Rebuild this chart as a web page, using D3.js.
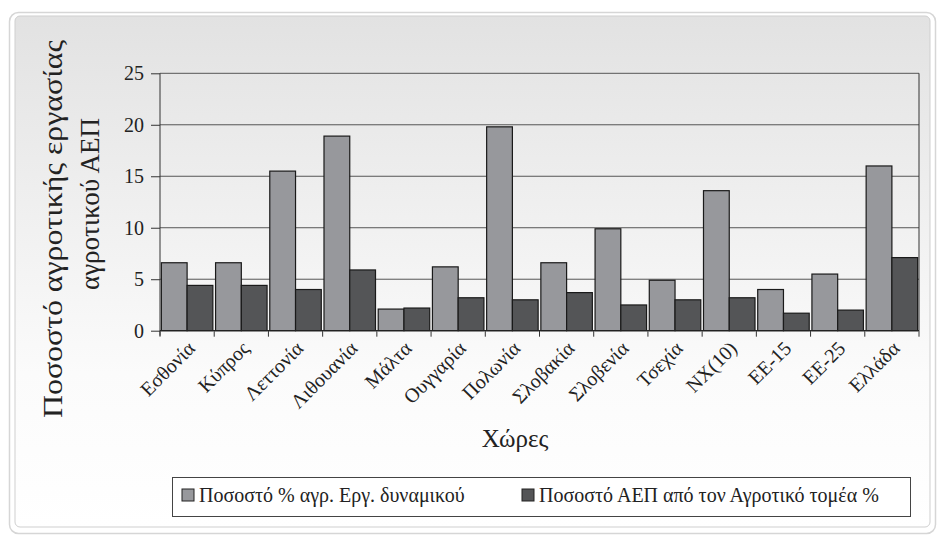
<!DOCTYPE html>
<html><head><meta charset="utf-8">
<script src="https://cdn.jsdelivr.net/npm/d3@7"></script>
<style>html,body{margin:0;padding:0;background:#fff;}svg{display:block;}</style>
</head><body>
<script>
const categories = ["Εσθονία","Κύπρος","Λεττονία","Λιθουανία","Μάλτα","Ουγγαρία","Πολωνία","Σλοβακία","Σλοβενία","Τσεχία","ΝΧ(10)","ΕΕ-15","ΕΕ-25","Ελλάδα"];
const laborShare = [6.6,6.6,15.5,18.9,2.1,6.2,19.8,6.6,9.9,4.9,13.6,4.0,5.5,16.0];
const gdpShare = [4.4,4.4,4.0,5.9,2.2,3.2,3.0,3.7,2.5,3.0,3.2,1.7,2.0,7.1];
const seriesNames = ["Ποσοστό % αγρ. Εργ. δυναμικού","Ποσοστό ΑΕΠ από τον Αγροτικό τομέα %"];
const yTitleLines = ["Ποσοστό αγροτικής εργασίας","αγροτικού ΑΕΠ"];
const yTicks = [0,5,10,15,20,25];

const W=941,H=535;
const font = "'Liberation Serif','Times New Roman',serif";
const svg = d3.select("body").append("svg").attr("width",W).attr("height",H);
const defs = svg.append("defs");
const g1 = defs.append("linearGradient").attr("id","bg").attr("x1",0).attr("y1",0).attr("x2",0).attr("y2",1);
g1.append("stop").attr("offset","0%").attr("stop-color","#e2e2e2");
g1.append("stop").attr("offset","70%").attr("stop-color","#fbfbfb");
g1.append("stop").attr("offset","100%").attr("stop-color","#ffffff");

svg.append("rect").attr("x",9.5).attr("y",12.5).attr("width",926).attr("height",521).attr("rx",9)
  .attr("fill","#fff").attr("stroke","#d6d6d6").attr("stroke-width",1.5);
svg.append("rect").attr("x",15).attr("y",16).attr("width",915).attr("height",511).attr("rx",5)
  .attr("fill","url(#bg)").attr("stroke","#cfcfcf").attr("stroke-width",1);

const m={l:160,r:919,t:73.3,b:330.7};
const x = d3.scaleBand().domain(categories).range([m.l,m.r]).paddingInner(0.05).paddingOuter(0.025);
const xg = d3.scaleBand().domain([0,1]).range([0,x.bandwidth()]);
const y = d3.scaleLinear().domain([0,25]).range([m.b,m.t]);

svg.append("g").selectAll("line").data(yTicks.filter(d=>d>0)).join("line")
  .attr("x1",m.l).attr("x2",m.r).attr("y1",d=>y(d)).attr("y2",d=>y(d))
  .attr("stroke","#555").attr("stroke-width",1);
svg.append("line").attr("x1",m.r).attr("x2",m.r).attr("y1",m.t).attr("y2",m.b).attr("stroke","#333").attr("stroke-width",1);

const colors=["#97989c","#545557"];
const groups = svg.append("g").selectAll("g").data(categories).join("g")
  .attr("transform",d=>`translate(${x(d)},0)`);
groups.selectAll("rect").data((d,i)=>[laborShare[i],gdpShare[i]].map((v,k)=>({v,k}))).join("rect")
  .attr("x",d=>xg(d.k)).attr("width",xg.bandwidth())
  .attr("y",d=>y(d.v)).attr("height",d=>y(0)-y(d.v))
  .attr("fill",d=>colors[d.k]).attr("stroke","#1a1a1a").attr("stroke-width",1.2);

const ya = svg.append("g").attr("transform",`translate(${m.l},0)`)
  .call(d3.axisLeft(y).tickValues(yTicks).tickSize(9).tickPadding(7));
ya.select(".domain").attr("stroke","#333").attr("d",`M0,${m.b+5}V${m.t}`);
ya.selectAll(".tick line").attr("stroke","#333");
ya.selectAll("text").attr("font-family",font).attr("font-size",20).attr("fill","#222");

const bx = d3.scaleLinear().domain([0,categories.length]).range([m.l,m.r]);
const xa = svg.append("g");
xa.append("line").attr("x1",m.l).attr("x2",m.r).attr("y1",m.b).attr("y2",m.b).attr("stroke","#222").attr("stroke-width",1.2);
xa.selectAll("line.t").data(d3.range(categories.length+1)).join("line").attr("class","t")
  .attr("x1",d=>bx(d)).attr("x2",d=>bx(d)).attr("y1",m.b).attr("y2",m.b+6).attr("stroke","#333");
xa.selectAll("text").data(categories).join("text")
  .attr("transform",d=>`translate(${x(d)+x.bandwidth()/2+9},${m.b+19}) rotate(-45)`)
  .attr("text-anchor","end").attr("font-family",font).attr("font-size",20).attr("fill","#222")
  .text(d=>d);

svg.append("text").attr("x",515).attr("y",447).attr("text-anchor","middle")
  .attr("font-family",font).attr("font-size",25).attr("fill","#222").text("Χώρες");

// y-axis title, two lines
const ytCfg=[{cy:229,bx:62,len:378},{cy:204,bx:99,len:172}];
yTitleLines.forEach((s,i)=>{
  svg.append("text").attr("transform",`translate(${ytCfg[i].bx},${ytCfg[i].cy}) rotate(-90)`)
    .attr("text-anchor","middle").attr("font-family",font).attr("font-size",27).attr("fill","#222")
    .attr("textLength",ytCfg[i].len).attr("lengthAdjust","spacingAndGlyphs").text(s);
});

const lg = svg.append("g");
lg.append("rect").attr("x",172.5).attr("y",477.5).attr("width",738).attr("height",39)
  .attr("fill","#fff").attr("stroke","#444").attr("stroke-width",1);
const lx=[182,522];
seriesNames.forEach((s,i)=>{
  lg.append("rect").attr("x",lx[i]).attr("y",489).attr("width",12).attr("height",12)
    .attr("fill",colors[i]).attr("stroke","#222");
  lg.append("text").attr("x",lx[i]+17).attr("y",502).attr("font-family",font).attr("font-size",20)
    .attr("fill","#222").text(s);
});
</script>
</body></html>
